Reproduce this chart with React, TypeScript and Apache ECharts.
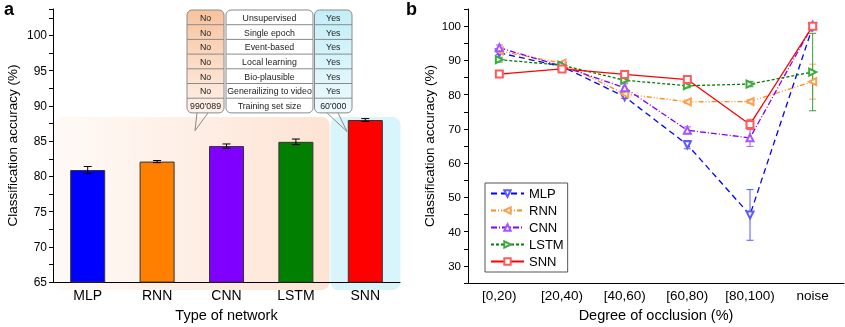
import React, { useEffect, useRef } from "react";
import * as echarts from "echarts";

// Panel a data
const networks = ["MLP", "RNN", "CNN", "LSTM", "SNN"];
const accuracyA = [80.9, 82.1, 84.3, 84.9, 88.0];
const errorA = [0.5, 0.15, 0.3, 0.4, 0.2];
const barColors = ["#0000ff", "#ff8000", "#8000ff", "#007f00", "#ff0000"];

// Panel b data
const occlusion = ["[0,20)", "[20,40)", "[40,60)", "[60,80)", "[80,100)", "noise"];
const mlpB = [92.2, 88.2, 79.4, 65.4, 44.9, 99.8];
const rnnB = [92.8, 89.2, 80.2, 77.9, 78.0, 83.8];
const cnnB = [93.7, 88.3, 82.0, 69.6, 67.4, 100.3];
const lstmB = [90.2, 88.6, 84.2, 82.6, 83.1, 86.6];
const snnB = [86.0, 87.5, 85.9, 84.4, 71.3, 100.0];
const mlpErr = [0.5, 0.5, 0.5, 1.2, 7.4, 0.3];
const rnnErr = [0.5, 0.5, 0.8, 0.5, 0.5, 5.1];
const cnnErr = [0.8, 0.5, 1.2, 1.0, 2.5, 0.3];
const lstmErr = [0.7, 0.5, 0.5, 0.6, 0.8, 11.3];
const snnErr = [0.6, 0.5, 0.6, 0.5, 1.5, 0.4];

// Table texts
const tableLeft = ["No", "No", "No", "No", "No", "No", "990'089"];
const tableMid = [
  "Unsupervised",
  "Single epoch",
  "Event-based",
  "Local learning",
  "Bio-plausible",
  "Generailizing to video",
  "Training set size",
];
const tableRight = ["Yes", "Yes", "Yes", "Yes", "Yes", "Yes", "60'000"];

const FONT = "Liberation Sans, Arial, sans-serif";

function errRender(capW: number, color: string) {
  return (params: any, api: any) => {
    const x = api.value(0);
    const lo = api.value(1);
    const hi = api.value(2);
    const p1 = api.coord([x, hi]);
    const p2 = api.coord([x, lo]);
    const st = { stroke: color, lineWidth: 1 };
    return {
      type: "group",
      children: [
        { type: "line", shape: { x1: p1[0], y1: p1[1], x2: p2[0], y2: p2[1] }, style: st },
        { type: "line", shape: { x1: p1[0] - capW / 2, y1: p1[1], x2: p1[0] + capW / 2, y2: p1[1] }, style: st },
        { type: "line", shape: { x1: p2[0] - capW / 2, y1: p2[1], x2: p2[0] + capW / 2, y2: p2[1] }, style: st },
      ],
    };
  };
}

function buildTable() {
  const top = 10;
  const rowH = 14.7;
  const n = tableMid.length;
  const cols = [
    { x: 187, w: 37, texts: tableLeft, fill: new echarts.graphic.LinearGradient(0, 0, 0, 1, [{ offset: 0, color: "#f8c29c" }, { offset: 1, color: "#fef2eb" }]) },
    { x: 226, w: 87, texts: tableMid, fill: "#ffffff" },
    { x: 314.5, w: 37.5, texts: tableRight, fill: new echarts.graphic.LinearGradient(0, 0, 0, 1, [{ offset: 0, color: "#c2eef9" }, { offset: 1, color: "#eefafd" }]) },
  ];
  const els: any[] = [];
  cols.forEach((c) => {
    els.push({
      type: "rect",
      shape: { x: c.x, y: top, width: c.w, height: rowH * n, r: 5 },
      style: { fill: c.fill, stroke: "#8a8a8a", lineWidth: 1 },
      z: 100,
    });
    for (let i = 1; i < n; i++) {
      els.push({
        type: "line",
        shape: { x1: c.x, y1: top + rowH * i, x2: c.x + c.w, y2: top + rowH * i },
        style: { stroke: "#8a8a8a", lineWidth: 1 },
        z: 101,
      });
    }
    c.texts.forEach((t, i) => {
      els.push({
        type: "text",
        x: c.x + c.w / 2,
        y: top + rowH * i + rowH / 2 + 0.5,
        style: { text: t, fontSize: 8.8, fontFamily: FONT, fill: "#222", align: "center", verticalAlign: "middle" },
        z: 102,
      });
    });
  });
  els.push({
    type: "polyline",
    shape: { points: [[197, top + rowH * n], [195, 130.7], [208, top + rowH * n]] },
    style: { stroke: "#8a8a8a", lineWidth: 1, fill: "none" },
    z: 101,
  });
  els.push({
    type: "polyline",
    shape: { points: [[327, top + rowH * n], [347, 131.5], [338, top + rowH * n]] },
    style: { stroke: "#8a8a8a", lineWidth: 1, fill: "none" },
    z: 101,
  });
  return els;
}

export default function App() {
  const ref = useRef<HTMLDivElement>(null);
  useEffect(() => {
    if (!ref.current) return;
    const chart = echarts.init(ref.current, null, { renderer: "svg" });

    const lineSeries = (name: string, data: number[], color: string, mColor: string, dash: any, symbol: string, rot: number, z: number) => ({
      type: "line",
      name,
      xAxisIndex: 1,
      yAxisIndex: 1,
      data,
      symbol,
      symbolSize: 7,
      symbolRotate: rot,
      z,
      lineStyle: { color, width: 1.3, type: dash },
      itemStyle: { color: mColor, borderWidth: 1 },
    });

    const errSeriesB = (vals: number[], errs: number[], color: string) => ({
      type: "custom",
      xAxisIndex: 1,
      yAxisIndex: 1,
      z: 2,
      renderItem: errRender(7, color),
      encode: { x: 0, y: [1, 2] },
      data: vals.map((v, i) => [i, v - errs[i], v + errs[i]]),
    });

    const option: any = {
      animation: false,
      textStyle: { fontFamily: FONT, color: "#000" },
      grid: [
        { left: 53, top: 9, width: 347, height: 281 },
        { left: 468, top: 9, width: 376, height: 278 },
      ],
      xAxis: [
        {
          type: "category",
          gridIndex: 0,
          data: networks,
          axisLine: { lineStyle: { color: "#000", width: 1 } },
          axisTick: { alignWithLabel: true, length: 4, lineStyle: { color: "#000" } },
          axisLabel: { fontSize: 14, color: "#000", margin: 6, interval: 0 },
          name: "Type of network",
          nameLocation: "middle",
          nameGap: 24,
          nameTextStyle: { fontSize: 14.5, color: "#000" },
        },
        {
          type: "category",
          gridIndex: 1,
          data: occlusion,
          axisLine: { lineStyle: { color: "#000", width: 1 } },
          axisTick: { alignWithLabel: true, length: 4, lineStyle: { color: "#000" } },
          axisLabel: { fontSize: 13.5, color: "#000", margin: 5, interval: 0 },
          name: "Degree of occlusion (%)",
          nameLocation: "middle",
          nameGap: 15,
          nameTextStyle: { fontSize: 14.5, color: "#000" },
        },
      ],
      yAxis: [
        {
          type: "value",
          gridIndex: 0,
          min: 65,
          max: 103.75,
          interval: 2.5,
          splitLine: { show: false },
          axisLine: { show: true, lineStyle: { color: "#000", width: 1 } },
          axisTick: { show: true, length: 4, lineStyle: { color: "#000" } },
          axisLabel: {
            fontSize: 12,
            color: "#000",
            margin: 6,
            formatter: (v: number) => (v % 5 === 0 && v <= 100 ? String(v) : ""),
          },
          name: "Classification accuracy (%)",
          nameLocation: "middle",
          nameGap: 34,
          nameTextStyle: { fontSize: 13.5, color: "#000" },
        },
        {
          type: "value",
          gridIndex: 1,
          min: 25,
          max: 105,
          interval: 5,
          splitLine: { show: false },
          axisLine: { show: true, lineStyle: { color: "#000", width: 1 } },
          axisTick: { show: true, length: 4, lineStyle: { color: "#000" } },
          axisLabel: {
            fontSize: 11.5,
            color: "#000",
            margin: 7,
            formatter: (v: number) => (v % 10 === 0 && v >= 30 && v <= 100 ? String(v) : ""),
          },
          name: "Classification accuracy (%)",
          nameLocation: "middle",
          nameGap: 32,
          nameTextStyle: { fontSize: 13.5, color: "#000" },
        },
      ],
      legend: {
        left: 485,
        top: 183,
        orient: "vertical",
        itemWidth: 33,
        itemHeight: 8,
        itemGap: 4,
        padding: [4, 4, 4, 5],
        borderColor: "#555",
        borderWidth: 1,
        backgroundColor: "#fff",
        textStyle: { fontSize: 13, color: "#000", fontFamily: FONT },
        data: ["MLP", "RNN", "CNN", "LSTM", "SNN"],
      },
      graphic: [
        {
          type: "rect",
          shape: { x: 53.5, y: 117, width: 276, height: 173, r: 8 },
          style: {
            fill: new echarts.graphic.LinearGradient(0, 0, 1, 0, [
              { offset: 0, color: "#fffaf7" },
              { offset: 1, color: "#fde3d3" },
            ]),
          },
          z: -10,
        },
        {
          type: "rect",
          shape: { x: 330.5, y: 117, width: 70, height: 173, r: 8 },
          style: { fill: "#d8f5fb" },
          z: -10,
        },
        ...buildTable(),
        { type: "text", x: 4, y: 0, style: { text: "a", fontSize: 18, fontWeight: "bold", fontFamily: FONT, fill: "#000" }, z: 200 },
        { type: "text", x: 406, y: 0, style: { text: "b", fontSize: 18, fontWeight: "bold", fontFamily: FONT, fill: "#000" }, z: 200 },
      ],
      series: [
        {
          type: "bar",
          xAxisIndex: 0,
          yAxisIndex: 0,
          barWidth: 35,
          data: accuracyA.map((v, i) => ({
            value: v,
            itemStyle: { color: barColors[i], borderColor: "#333", borderWidth: 1 },
          })),
        },
        {
          type: "custom",
          xAxisIndex: 0,
          yAxisIndex: 0,
          z: 5,
          renderItem: errRender(8, "#000"),
          encode: { x: 0, y: [1, 2] },
          data: accuracyA.map((v, i) => [i, v - errorA[i], v + errorA[i]]),
        },
        errSeriesB(mlpB, mlpErr, "#5b5bff"),
        errSeriesB(rnnB, rnnErr, "#ffab5b"),
        errSeriesB(cnnB, cnnErr, "#ad5bff"),
        errSeriesB(lstmB, lstmErr, "#3c9a3c"),
        errSeriesB(snnB, snnErr, "#ff5b5b"),
        lineSeries("MLP", mlpB, "#0000ff", "#5b5bff", [6, 4], "emptyTriangle", 180, 3),
        lineSeries("RNN", rnnB, "#ff8c1a", "#ffa050", [5, 2, 1, 2, 1, 2], "emptyTriangle", 90, 3),
        lineSeries("CNN", cnnB, "#8000ff", "#a555ff", [6, 2, 1, 2], "emptyTriangle", 0, 3),
        lineSeries("LSTM", lstmB, "#008000", "#3caa3c", [3, 2], "emptyTriangle", -90, 3),
        lineSeries("SNN", snnB, "#ff0000", "#ff5b5b", "solid", "emptyRect", 0, 4),
      ],
    };
    chart.setOption(option);
    return () => chart.dispose();
  }, []);
  return <div ref={ref} style={{ position: "fixed", left: 0, top: 0, width: 845, height: 327 }} />;
}
